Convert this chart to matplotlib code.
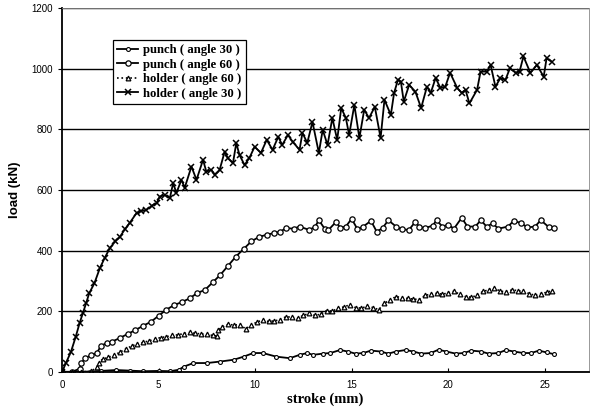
import numpy as np
import matplotlib
matplotlib.use('Agg')
import matplotlib.pyplot as plt

# holder (angle 30)
h30_x = [0, 0.2, 0.45, 0.7, 0.9, 1.07, 1.24, 1.4, 1.67, 1.96, 2.2, 2.48, 2.75, 3.0, 3.25, 3.5,
         3.86, 4.1, 4.37, 4.65, 4.9, 5.06, 5.32, 5.58, 5.75, 5.92, 6.18, 6.35, 6.7, 6.96, 7.3,
         7.47, 7.73, 7.9, 8.16, 8.42, 8.59, 8.85, 9.02, 9.19, 9.45, 9.7, 9.97, 10.3, 10.6, 10.9,
         11.2, 11.4, 11.7, 11.95, 12.3, 12.45, 12.7, 12.97, 13.3, 13.5, 13.75, 14.0, 14.25,
         14.46, 14.7, 14.87, 15.14, 15.4, 15.65, 15.9, 16.2, 16.5, 16.7, 17.03, 17.2, 17.4,
         17.55, 17.7, 17.98, 18.3, 18.6, 18.9, 19.1, 19.35, 19.6, 19.85, 20.1, 20.47, 20.7,
         20.9, 21.1, 21.5, 21.68, 22.0, 22.2, 22.45, 22.7, 22.97, 23.2, 23.5, 23.7, 23.9,
         24.26, 24.6, 24.95, 25.1, 25.36]
h30_y = [0, 30, 65, 115, 160, 193, 226, 259, 292, 343, 375, 409, 430, 446, 470, 491,
         524, 530, 534, 548, 557, 578, 583, 573, 622, 590, 633, 607, 677, 633, 699,
         660, 666, 650, 666, 726, 704, 688, 754, 715, 682, 705, 742, 722, 765, 732,
         775, 748, 781, 758, 732, 788, 755, 824, 722, 798, 748, 837, 765,
         870, 837, 781, 880, 771, 864, 837, 874, 771, 897, 847, 920, 963,
         957, 891, 946, 924, 870, 940, 920, 969, 936, 940, 986, 936, 920,
         930, 885, 930, 990, 990, 1012, 940, 968, 963, 1001, 986, 990, 1040,
         986, 1012, 973, 1034, 1023]

# punch (angle 60)
p60_x = [0, 0.5, 0.9, 1.0, 1.2, 1.5, 1.8, 2.0, 2.3, 2.6, 3.0, 3.4, 3.8, 4.2, 4.6, 5.0, 5.4,
         5.8, 6.2, 6.6, 7.0, 7.4, 7.8, 8.2, 8.6, 9.0, 9.4, 9.8, 10.2, 10.6, 11.0, 11.3, 11.6,
         12.0, 12.3, 12.8, 13.1, 13.3, 13.6, 13.8, 14.2, 14.4, 14.7, 15.0, 15.3, 15.6, 16.0,
         16.3, 16.6, 16.9, 17.3, 17.6, 17.97, 18.3, 18.5, 18.8, 19.2, 19.4, 19.7, 20.0, 20.3,
         20.7, 21.0, 21.4, 21.7, 22.0, 22.3, 22.6, 23.1, 23.4, 23.8, 24.1, 24.5, 24.8, 25.2, 25.5]
p60_y = [0, 0, 10, 30, 45, 55, 62, 85, 95, 100, 112, 125, 138, 152, 165, 185, 205,
         220, 230, 242, 260, 270, 295, 320, 350, 380, 405, 430, 445, 452, 458, 462, 474,
         472, 479, 468, 478, 500, 472, 468, 495, 475, 479, 505, 470, 479, 498,
         462, 474, 500, 479, 470, 468, 495, 478, 474, 482, 500, 479, 485, 472,
         508, 479, 479, 500, 478, 490, 472, 479, 498, 490, 476, 479, 500, 478, 474]

# holder (angle 60)
h60_x = [0, 0.5, 1.0, 1.5, 1.8, 1.9, 2.1, 2.4, 2.7, 3.0, 3.3, 3.6, 3.9, 4.2, 4.5, 4.8, 5.1,
         5.4, 5.7, 6.0, 6.3, 6.6, 6.9, 7.2, 7.5, 7.8, 8.0, 8.1, 8.3, 8.6, 8.9, 9.2, 9.5, 9.8,
         10.1, 10.4, 10.7, 11.0, 11.3, 11.6, 11.9, 12.2, 12.5, 12.8, 13.1, 13.4, 13.7, 14.0,
         14.3, 14.6, 14.9, 15.2, 15.5, 15.8, 16.1, 16.4, 16.7, 17.0, 17.3, 17.6, 17.9, 18.2,
         18.5, 18.8, 19.1, 19.4, 19.7, 20.0, 20.3, 20.6, 20.9, 21.2, 21.5, 21.8, 22.1, 22.4,
         22.7, 23.0, 23.3, 23.6, 23.9, 24.2, 24.5, 24.8, 25.1, 25.4]
h60_y = [0, 0, 0, 2, 15, 30, 42, 48, 55, 65, 76, 85, 92, 97, 102, 108, 113,
         116, 120, 122, 126, 130, 127, 125, 124, 120, 118, 138, 148, 157, 154, 156, 142, 153,
         165, 170, 166, 168, 172, 182, 180, 177, 186, 193, 186, 190, 202, 200,
         210, 214, 221, 212, 210, 216, 212, 205, 226, 238, 248, 245, 242, 240,
         238, 252, 256, 259, 256, 260, 266, 255, 248, 246, 252, 265, 270, 276,
         266, 264, 270, 268, 265, 258, 252, 258, 262, 268]

# punch (angle 30)
p30_x = [0, 1.0, 2.0, 2.8, 3.5, 4.2, 5.0, 5.6, 6.05, 6.3, 6.8, 7.5, 8.2, 8.9, 9.4, 9.9, 10.4,
         11.1, 11.8, 12.3, 12.7, 13.0, 13.5, 13.9, 14.4, 14.8, 15.2, 15.6, 16.0, 16.5, 16.9,
         17.3, 17.8, 18.2, 18.6, 19.1, 19.5, 19.9, 20.4, 20.8, 21.2, 21.7, 22.1, 22.6, 23.0,
         23.4, 23.9, 24.3, 24.7, 25.1, 25.5]
p30_y = [0, 0, 3, 6, 4, 2, 3, 2, 7, 17, 29, 29, 34, 40, 50, 62, 62,
         50, 45, 56, 62, 56, 60, 62, 72, 67, 60, 62, 70, 67, 60,
         67, 72, 67, 60, 62, 73, 67, 60, 62, 70, 67, 60, 62, 72, 67, 62, 62, 70, 64, 58]

plt.rcParams['font.family'] = 'Liberation Sans'

fig = plt.figure(figsize=(5.92, 4.15), dpi=100)
ax = fig.add_axes([0.105, 0.104, 0.89, 0.877])

ax.yaxis.grid(True, color='black', linewidth=1.0)
ax.set_axisbelow(True)

ax.plot(p30_x, p30_y, '-', color='black', linewidth=1.3, marker='o', markersize=2.8,
        markerfacecolor='white', markeredgewidth=0.8, label='punch ( angle 30 )')
ax.plot(p60_x, p60_y, '-', color='black', linewidth=1.3, marker='o', markersize=3.8,
        markerfacecolor='white', markeredgewidth=0.9, label='punch ( angle 60 )')
ax.plot(h60_x, h60_y, ':', color='black', linewidth=1.2, marker='^', markersize=3.4,
        markerfacecolor='white', markeredgewidth=0.9, label='holder ( angle 60 )')
ax.plot(h30_x, h30_y, '-', color='black', linewidth=1.3, marker='x', markersize=4.5,
        markeredgewidth=1.1, label='holder ( angle 30 )')

ax.set_xlim(0, 27.3)
ax.set_ylim(0, 1200)
ax.set_xticks([0, 5, 10, 15, 20, 25])
ax.set_yticks(range(0, 1201, 200))
ax.tick_params(axis='x', direction='in', length=3, labelsize=7, pad=6)
ax.tick_params(axis='y', direction='out', length=3, labelsize=7)

for side in ['left', 'bottom']:
    ax.spines[side].set_linewidth(1.3)
for side in ['top', 'right']:
    ax.spines[side].set_color('#888888')
    ax.spines[side].set_linewidth(0.6)
    ax.spines[side].set_linestyle((0, (2, 1)))

ax.set_xlabel('stroke (mm)', fontsize=10.5, fontweight='bold', family='Liberation Serif', labelpad=2)
ax.set_ylabel('load (kN)', fontsize=9.5, fontweight='bold', labelpad=8)

leg = ax.legend(loc='upper left', bbox_to_anchor=(0.084, 0.93), frameon=True, fancybox=False,
                edgecolor='black', framealpha=1, handlelength=1.6, handletextpad=0.4,
                borderpad=0.35, labelspacing=0.2,
                prop={'family': 'Liberation Serif', 'weight': 'bold', 'size': 9.2})
leg.get_frame().set_linewidth(0.9)

fig.savefig('out.png', dpi=100)
